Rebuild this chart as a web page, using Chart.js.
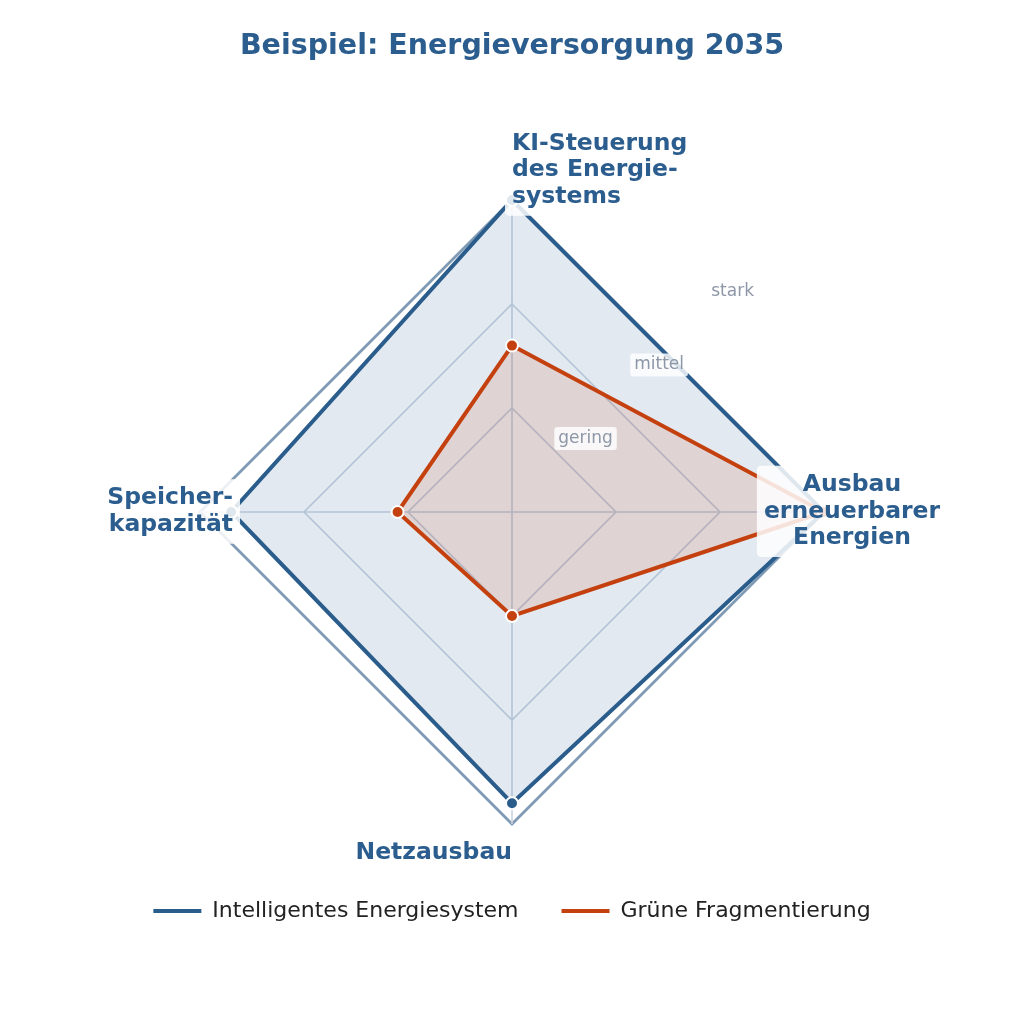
<!DOCTYPE html>
<html><head><meta charset="utf-8">
<script src="https://cdn.jsdelivr.net/npm/chart.js@4.4.1/dist/chart.umd.min.js"></script>
<style>html,body{margin:0;padding:0;background:#fff;}#wrap{width:1024px;height:1024px;}</style>
</head><body><div id="wrap"><canvas id="c" width="1024" height="1024" style="width:1024px;height:1024px"></canvas></div>
<script>
const titleText = 'Beispiel: Energieversorgung 2035';
const categories = [['KI-Steuerung','des Energie-','systems'], ['Ausbau','erneuerbarer','Energien'], ['Netzausbau'], ['Speicher-','kapazität']];
const seriesNames = ['Intelligentes Energiesystem', 'Grüne Fragmentierung'];
const intelligentValues = [3.0, 3.0, 2.8, 2.7];
const fragmentValues = [1.6, 3.0, 1.0, 1.1];
const tickValues = [1, 2, 3];
const tickLabels = ['gering', 'mittel', 'stark'];

const BLUE = '#2b5d8c', ORANGE = '#c4410f', LABEL = '#2b5d8e', TICK = '#8d97a8';
const GRID = '#c7d4e2', OUTER = '#7f9ab5';

Chart.defaults.font.family = "'DejaVu Sans'";

function rrect(ctx, x, y, w, h, r) {
  ctx.beginPath();
  ctx.moveTo(x + r, y); ctx.lineTo(x + w - r, y); ctx.quadraticCurveTo(x + w, y, x + w, y + r);
  ctx.lineTo(x + w, y + h - r); ctx.quadraticCurveTo(x + w, y + h, x + w - r, y + h);
  ctx.lineTo(x + r, y + h); ctx.quadraticCurveTo(x, y + h, x, y + h - r);
  ctx.lineTo(x, y + r); ctx.quadraticCurveTo(x, y, x + r, y); ctx.closePath();
}

const placement = [
  {dx: 0, dy: 3, align: 'left', v: 'bottom'},
  {dx: 28, dy: 0, align: 'center', v: 'middle'},
  {dx: 0, dy: 35, align: 'right', v: 'top'},
  {dx: 33, dy: 0, align: 'right', v: 'middle'}
];

const labelPlugin = {
  id: 'customLabels',
  afterDatasetsDraw(chart) {
    const s = chart.scales.r, ctx = chart.ctx;
    ctx.save();
    ctx.font = '17px "DejaVu Sans"';
    ctx.textAlign = 'center'; ctx.textBaseline = 'middle';
    tickValues.forEach((v, k) => {
      const d = s.getDistanceFromCenterForValue(v);
      const x = s.xCenter + d * Math.cos(-Math.PI / 4), y = s.yCenter + d * Math.sin(-Math.PI / 4);
      const w = ctx.measureText(tickLabels[k]).width;
      ctx.fillStyle = 'rgba(255,255,255,0.82)';
      rrect(ctx, x - w / 2 - 4, y - 11.5, w + 8, 23, 3); ctx.fill();
      ctx.fillStyle = TICK; ctx.fillText(tickLabels[k], x, y);
    });
    ctx.font = 'bold 23.5px "DejaVu Sans"';
    const LH = 26.7, ASC = 18, DESC = 5.8, PAD = 7;
    categories.forEach((lines, i) => {
      const p = s.getPointPosition(i, s.drawingArea);
      const pl = placement[i];
      const ax = p.x + pl.dx, ay = p.y + pl.dy, n = lines.length;
      let firstBase;
      if (pl.v === 'bottom') firstBase = ay - (n - 1) * LH;
      else if (pl.v === 'top') firstBase = ay;
      else firstBase = ay - (n - 1) * LH / 2 + 5.5;
      const maxW = Math.max(...lines.map(t => ctx.measureText(t).width));
      const left = pl.align === 'left' ? ax : pl.align === 'right' ? ax - maxW : ax - maxW / 2;
      ctx.fillStyle = 'rgba(255,255,255,0.85)';
      rrect(ctx, left - PAD, firstBase - ASC - PAD, maxW + 2 * PAD, (n - 1) * LH + ASC + DESC + 2 * PAD, 5);
      ctx.fill();
      ctx.fillStyle = LABEL; ctx.textAlign = pl.align; ctx.textBaseline = 'alphabetic';
      lines.forEach((t, k) => ctx.fillText(t, ax, firstBase + k * LH));
    });
    ctx.restore();
  }
};

new Chart(document.getElementById('c'), {
  type: 'radar',
  data: {
    labels: categories,
    datasets: [
      {label: seriesNames[0], data: intelligentValues, order: 2, borderColor: BLUE, backgroundColor: 'rgba(43,93,140,0.135)',
       borderWidth: 4, fill: true, pointRadius: 6, pointBorderWidth: 2, pointBorderColor: '#fff', pointBackgroundColor: BLUE},
      {label: seriesNames[1], data: fragmentValues, order: 1, borderColor: ORANGE, backgroundColor: 'rgba(196,65,15,0.13)',
       borderWidth: 4, fill: true, pointRadius: 6, pointBorderWidth: 2, pointBorderColor: '#fff', pointBackgroundColor: ORANGE}
    ]
  },
  options: {
    responsive: false, animation: false, devicePixelRatio: 1,
    layout: {padding: {top: 0, left: 0, right: 0, bottom: 92}},
    scales: {
      r: {
        min: 0, max: 3,
        ticks: {display: false, stepSize: 1},
        pointLabels: {display: false},
        grid: {
          color: c => c.index === tickValues.length ? OUTER : GRID,
          lineWidth: c => c.index === tickValues.length ? 2.8 : 1.6
        },
        angleLines: {color: GRID, lineWidth: 1.6}
      }
    },
    plugins: {
      tooltip: {enabled: false},
      title: {display: true, text: titleText, color: LABEL, font: {size: 28.5, weight: 'bold', lineHeight: 1.2},
              padding: {top: 29, bottom: 136.8}},
      legend: {
        position: 'bottom',
        title: {display: true, text: '', font: {size: 1, lineHeight: 1}, padding: {top: 32, bottom: 0}},
        labels: {
          color: '#222', font: {size: 22}, boxWidth: 48, boxHeight: 4, padding: 43,
          sort: (a, b) => a.datasetIndex - b.datasetIndex,
          generateLabels(chart) {
            const items = Chart.defaults.plugins.legend.labels.generateLabels(chart);
            items.forEach(it => { const ds = chart.data.datasets[it.datasetIndex]; it.fillStyle = ds.borderColor; it.strokeStyle = ds.borderColor; it.lineWidth = 0; });
            return items;
          }
        }
      }
    }
  },
  plugins: [labelPlugin]
});
</script></body></html>
